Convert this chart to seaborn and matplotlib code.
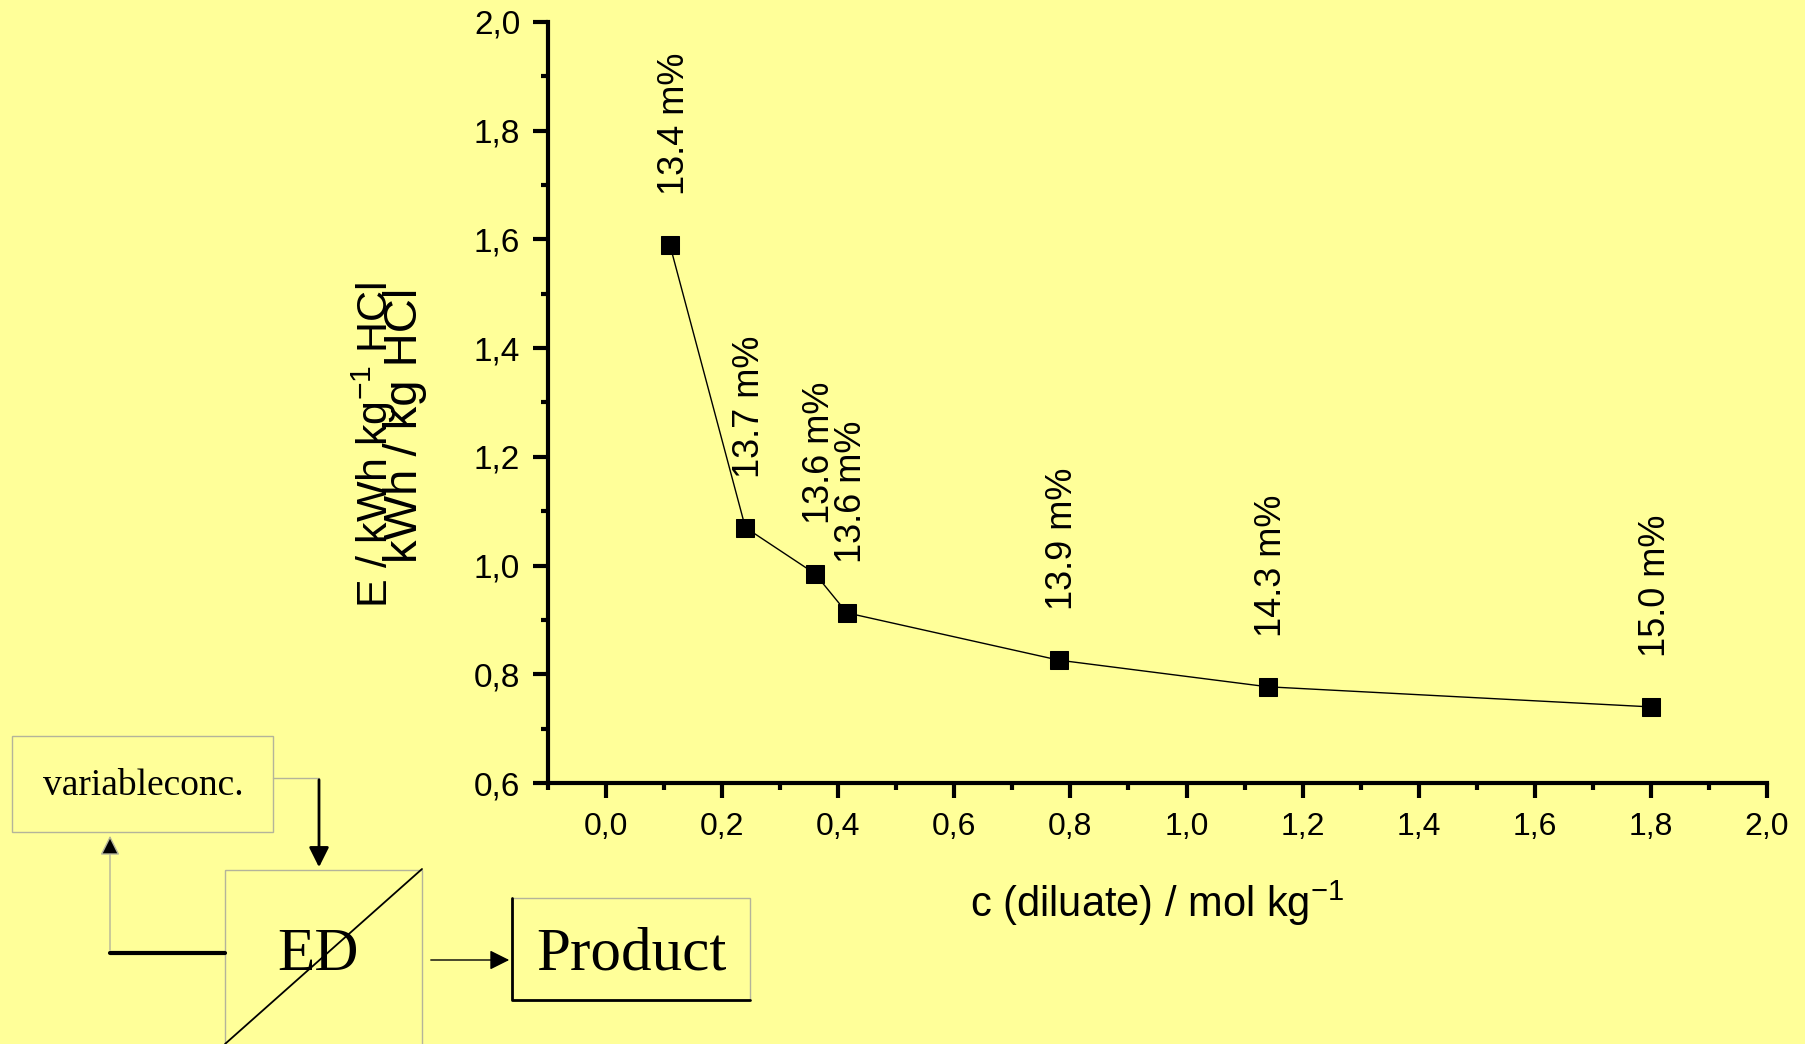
import matplotlib
matplotlib.use("Agg")
import matplotlib.pyplot as plt
import seaborn as sns
from matplotlib.ticker import MultipleLocator, FuncFormatter
from matplotlib.patches import Rectangle

# data
conc = [0.11, 0.24, 0.36, 0.415, 0.78, 1.14, 1.80]
energy = [1.59, 1.07, 0.985, 0.913, 0.826, 0.777, 0.740]
mass_pct = ['13.4 m%', '13.7 m%', '13.6 m%', '13.6 m%', '13.9 m%', '14.3 m%', '15.0 m%']

BG = '#FFFF99'
GREY = '#b4b49a'

sns.set_theme(style='ticks')
plt.rcParams['font.family'] = ['Liberation Sans', 'DejaVu Sans']
plt.rcParams['mathtext.fontset'] = 'custom'
plt.rcParams['mathtext.rm'] = 'Liberation Sans'
plt.rcParams['mathtext.default'] = 'regular'
for k in ['text.color', 'axes.labelcolor', 'xtick.color', 'ytick.color']:
    plt.rcParams[k] = 'black'

W, H = 1805, 1044
fig = plt.figure(figsize=(W / 100, H / 100), dpi=100, facecolor=BG)

# overlay in pixel coords for the flow sketch and the y label
ov = fig.add_axes([0, 0, 1, 1], zorder=0)
ov.set_xlim(0, W)
ov.set_ylim(H, 0)
ov.axis('off')
ov.patch.set_alpha(0)

ax = fig.add_axes([548 / W, 1 - 783 / H, (1767 - 548) / W, (783 - 22) / H], zorder=1)
ax.patch.set_alpha(0)

sns.lineplot(x=conc, y=energy, ax=ax, color='black', linewidth=1.0,
             marker='s', markersize=13.5, markeredgecolor='black', sort=False)

for xv, yv, lab in zip(conc, energy, mass_pct):
    ax.annotate(lab, (xv, yv), xytext=(3, 36), textcoords='offset points',
                rotation=90, ha='center', va='bottom', fontsize=26)

ax.set_xlim(-0.1, 2.0)
ax.set_ylim(0.6, 2.0)
ax.xaxis.set_major_locator(MultipleLocator(0.2))
ax.xaxis.set_minor_locator(MultipleLocator(0.1))
ax.yaxis.set_major_locator(MultipleLocator(0.2))
ax.yaxis.set_minor_locator(MultipleLocator(0.1))
comma = FuncFormatter(lambda v, p: f'{v:.1f}'.replace('.', ','))
ax.xaxis.set_major_formatter(comma)
ax.yaxis.set_major_formatter(comma)

sns.despine(ax=ax)
for s in ['left', 'bottom']:
    ax.spines[s].set_linewidth(3)
    ax.spines[s].set_color('black')
ax.tick_params(which='major', length=11, width=3, color='black')
ax.tick_params(which='minor', length=5, width=3, color='black')
ax.tick_params(axis='x', which='major', labelsize=23, pad=10)
ax.tick_params(axis='y', which='major', labelsize=24, pad=9)

ax.set_xlabel('c (diluate) / mol kg$^{-1}$', fontsize=30, labelpad=26)

# doubled y label as in the original slide
ov.text(374, 445, 'E / kWh kg$^{-1}$ HCl', rotation=90, ha='center', va='center', fontsize=31)
ov.text(405, 425, 'kWh / kg HCl', rotation=90, ha='center', va='center', fontsize=34)

# flow sketch
serif = ['Liberation Serif', 'DejaVu Serif']
ov.add_patch(Rectangle((12, 736), 261, 96, fill=False, ec=GREY, lw=1))
ov.text(143, 786, 'variableconc.', family=serif, fontsize=27, ha='center', va='center')
ov.plot([273, 319], [778, 778], color=GREY, lw=1)
ov.annotate('', xy=(319, 870), xytext=(319, 777),
            arrowprops=dict(arrowstyle='-|>', color='black', lw=2, mutation_scale=30))

ov.add_patch(Rectangle((225, 870), 197, 200, fill=False, ec=GREY, lw=1))
ov.plot([422, 225], [869, 1044], color='black', lw=1.3)
ov.text(318, 955, 'ED', family=serif, fontsize=44, ha='center', va='center')

ov.plot([225, 110], [953, 953], color='black', lw=3)
ov.annotate('', xy=(110, 833), xytext=(110, 953),
            arrowprops=dict(arrowstyle='-|>', color=GREY, lw=1, mutation_scale=30, fc='black'))

ov.annotate('', xy=(512, 960), xytext=(428, 960),
            arrowprops=dict(arrowstyle='-|>', color='black', lw=1, mutation_scale=30))
ov.add_patch(Rectangle((512, 898), 238, 102, fill=False, ec=GREY, lw=1))
ov.plot([512, 512, 750], [898, 1000, 1000], color='black', lw=2)
ov.text(631, 955, 'Product', family=serif, fontsize=44, ha='center', va='center')

fig.savefig('out.png', dpi=100, facecolor=BG)
